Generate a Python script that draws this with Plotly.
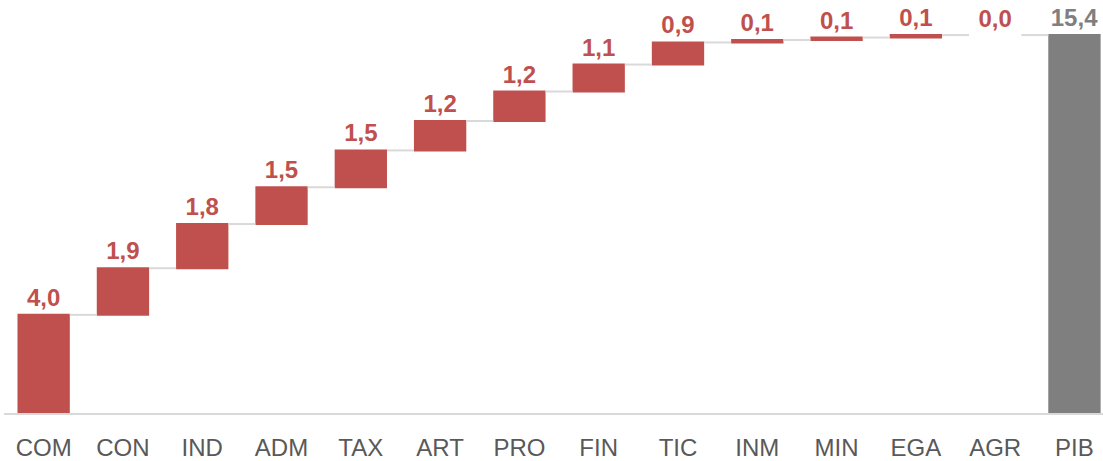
import plotly.graph_objects as go

categories = ["COM", "CON", "IND", "ADM", "TAX", "ART", "PRO", "FIN", "TIC", "INM", "MIN", "EGA", "AGR", "PIB"]
values = [4.0, 1.9, 1.8, 1.5, 1.5, 1.2, 1.2, 1.1, 0.9, 0.1, 0.1, 0.1, 0.0, 15.4]
measures = ["relative"] * 13 + ["total"]

RED = "#C0504D"
GREY = "#7F7F7F"

labels = [f"{v:.1f}".replace(".", ",") for v in values]
text_colors = [RED] * 13 + [GREY]

fig = go.Figure(go.Waterfall(
    x=categories,
    y=values,
    measure=measures,
    text=labels,
    textposition="outside",
    textfont=dict(family="Liberation Sans, Arial, sans-serif", size=24, color=text_colors, weight="bold"),
    increasing=dict(marker=dict(color=RED, line=dict(width=0))),
    totals=dict(marker=dict(color=GREY, line=dict(width=0))),
    connector=dict(line=dict(color="#D9D9D9", width=2)),
    cliponaxis=False,
    hoverinfo="x+y",
))

fig.update_layout(
    width=1103, height=461,
    margin=dict(l=4, r=0, t=0, b=48, autoexpand=False),
    paper_bgcolor="white", plot_bgcolor="white",
    showlegend=False,
    waterfallgap=0.34,
    font=dict(family="Liberation Sans, Arial, sans-serif"),
)
fig.update_xaxes(
    range=[-0.5, 13.36],
    automargin=False,
    showgrid=False, zeroline=False,
    showline=True, linecolor="#D9D9D9", linewidth=2,
    ticks="", ticklabelstandoff=12,
    tickfont=dict(size=24, color="#595959"),
)
fig.update_yaxes(
    range=[0, 16.83],
    automargin=False,
    visible=False, showgrid=False, zeroline=False,
)

fig.write_html(
    "out.html",
    config={"displayModeBar": False},
    post_script="document.body.style.margin='0';document.body.style.overflow='hidden';",
)
